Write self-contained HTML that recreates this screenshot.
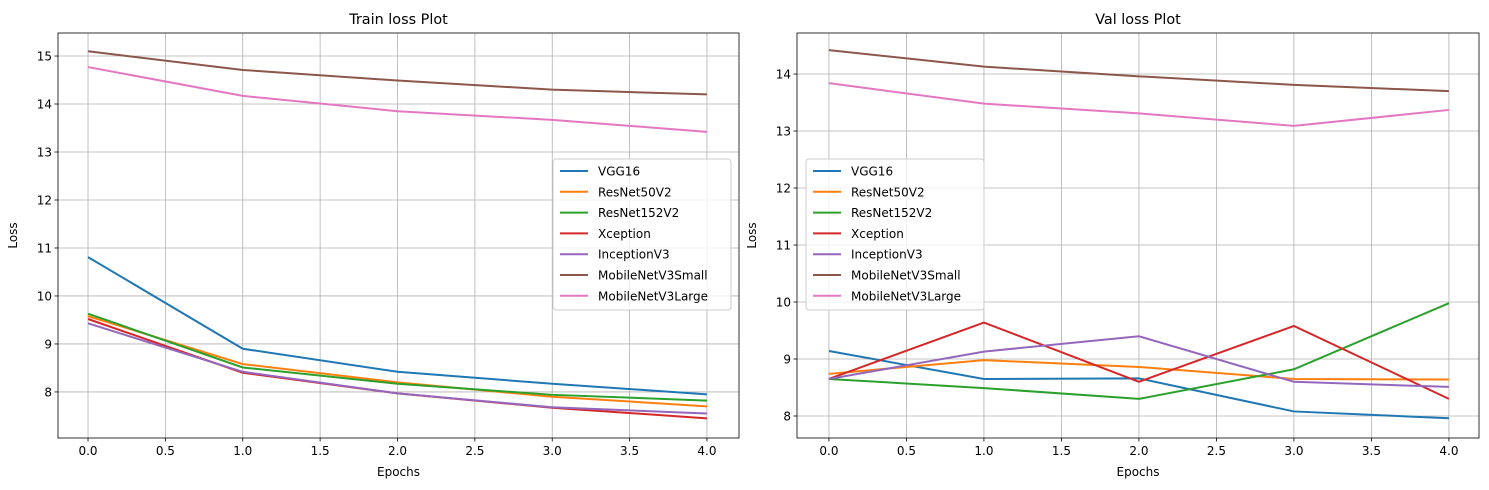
<!DOCTYPE html>
<html><head><meta charset="utf-8"><style>
body{margin:0;background:#fff;}
svg{display:block;font-family:"DejaVu Sans","Liberation Sans",sans-serif;}
</style></head><body>
<svg id="fig" width="1489" height="490" viewBox="0 0 1489 490" xmlns="http://www.w3.org/2000/svg"></svg>
<script>
const epochs=[0,1,2,3,4];
const seriesNames=["VGG16","ResNet50V2","ResNet152V2","Xception","InceptionV3","MobileNetV3Small","MobileNetV3Large"];
const colors=["#1f77b4","#ff7f0e","#2ca02c","#d62728","#9467bd","#8c564b","#e377c2"];
const trainVGG16=[10.81,8.90,8.42,8.17,7.95];
const trainResNet50V2=[9.58,8.58,8.20,7.90,7.70];
const trainResNet152V2=[9.63,8.51,8.17,7.94,7.82];
const trainXception=[9.52,8.40,7.97,7.67,7.45];
const trainInceptionV3=[9.43,8.42,7.97,7.68,7.55];
const trainSmall=[15.1,14.71,14.49,14.30,14.20];
const trainLarge=[14.77,14.17,13.85,13.67,13.42];
const valVGG16=[9.14,8.65,8.66,8.08,7.96];
const valResNet50V2=[8.74,8.98,8.86,8.65,8.64];
const valResNet152V2=[8.65,8.49,8.30,8.82,9.98];
const valXception=[8.65,9.64,8.60,9.58,8.30];
const valInceptionV3=[8.65,9.13,9.40,8.60,8.51];
const valSmall=[14.42,14.13,13.96,13.81,13.70];
const valLarge=[13.84,13.48,13.31,13.09,13.37];
const xTicks=[0,0.5,1,1.5,2,2.5,3,3.5,4];
const trainYTicks=[8,9,10,11,12,13,14,15];
const valYTicks=[8,9,10,11,12,13,14];

const NS="http://www.w3.org/2000/svg";
const svg=document.getElementById('fig');
function mk(tag,attrs,parent){const e=document.createElementNS(NS,tag);for(const k in attrs)e.setAttribute(k,attrs[k]);(parent||svg).appendChild(e);return e;}

function plot(cfg){
  const g=mk('g',{});
  
  
  const {x0,x1,y0,y1,xmin,xmax,ymin,ymax}=cfg;
  const sx=v=>x0+(v-xmin)/(xmax-xmin)*(x1-x0);
  const sy=v=>y1-(v-ymin)/(ymax-ymin)*(y1-y0);
  xTicks.forEach(t=>{
    const l=mk('line',{x1:sx(t),x2:sx(t),y1:y0,y2:y1,stroke:'#b0b0b0','stroke-width':0.8},g);
    
    
    mk('line',{x1:sx(t),x2:sx(t),y1:y1,y2:y1+3.5,stroke:'#000','stroke-width':0.8},g);
    const tx=mk('text',{x:sx(t),y:y1+17,'font-size':12,'text-anchor':'middle',fill:'#000'},g);
    tx.textContent=t.toFixed(1);
    
    
  });
  cfg.yTicks.forEach(t=>{
    const l=mk('line',{x1:x0,x2:x1,y1:sy(t),y2:sy(t),stroke:'#b0b0b0','stroke-width':0.8},g);
    
    
    mk('line',{x1:x0-3.5,x2:x0,y1:sy(t),y2:sy(t),stroke:'#000','stroke-width':0.8},g);
    const tx=mk('text',{x:x0-6,y:sy(t)+4.5,'font-size':12,'text-anchor':'end',fill:'#000'},g);
    tx.textContent=t;
    
    
  });
  cfg.series.forEach((s,i)=>{
    const p=mk('polyline',{points:s.map((v,j)=>sx(epochs[j])+','+sy(v)).join(' '),fill:'none',stroke:colors[i],'stroke-width':2},g);
    
    
  });
  const fr=mk('rect',{x:x0,y:y0,width:x1-x0,height:y1-y0,fill:'none',stroke:'#000','stroke-width':0.8},g);
  
  
  const ti=mk('text',{x:(x0+x1)/2,y:y0-9,'font-size':14.4,'text-anchor':'middle',fill:'#000'},g);
  ti.textContent=cfg.title;
  
  
  const xl=mk('text',{x:(x0+x1)/2,y:y1+38,'font-size':12,'text-anchor':'middle',fill:'#000'},g);
  xl.textContent='Epochs';
  
  
  const yl=mk('text',{x:0,y:0,'font-size':12,'text-anchor':'middle',fill:'#000',transform:`translate(${x0-41},${(y0+y1)/2}) rotate(-90)`},g);
  yl.textContent='Loss';
  
  
  const lg=mk('g',{},g);
  
  
  mk('rect',{x:cfg.lx,y:159,width:178,height:151,rx:3,fill:'#fff','fill-opacity':0.8,stroke:'#ccc','stroke-width':1},lg);
  seriesNames.forEach((n,i)=>{
    const yy=171+i*20.8;
    const e=mk('g',{},lg);
    
    
    mk('line',{x1:cfg.lx+7,x2:cfg.lx+35,y1:yy,y2:yy,stroke:colors[i],'stroke-width':2},e);
    const t=mk('text',{x:cfg.lx+45,y:yy+4.5,'font-size':12,fill:'#000'},e);
    t.textContent=n;
  });
}
plot({name:'train-loss-chart',title:'Train loss Plot',x0:58,x1:739,y0:33,y1:438,xmin:-0.194,xmax:4.207,ymin:7.04,ymax:15.48,yTicks:trainYTicks,lx:553,
  series:[trainVGG16,trainResNet50V2,trainResNet152V2,trainXception,trainInceptionV3,trainSmall,trainLarge]});
plot({name:'val-loss-chart',title:'Val loss Plot',x0:797,x1:1479,y0:33,y1:438,xmin:-0.206,xmax:4.194,ymin:7.614,ymax:14.72,yTicks:valYTicks,lx:806,
  series:[valVGG16,valResNet50V2,valResNet152V2,valXception,valInceptionV3,valSmall,valLarge]});
</script>
</body></html>
